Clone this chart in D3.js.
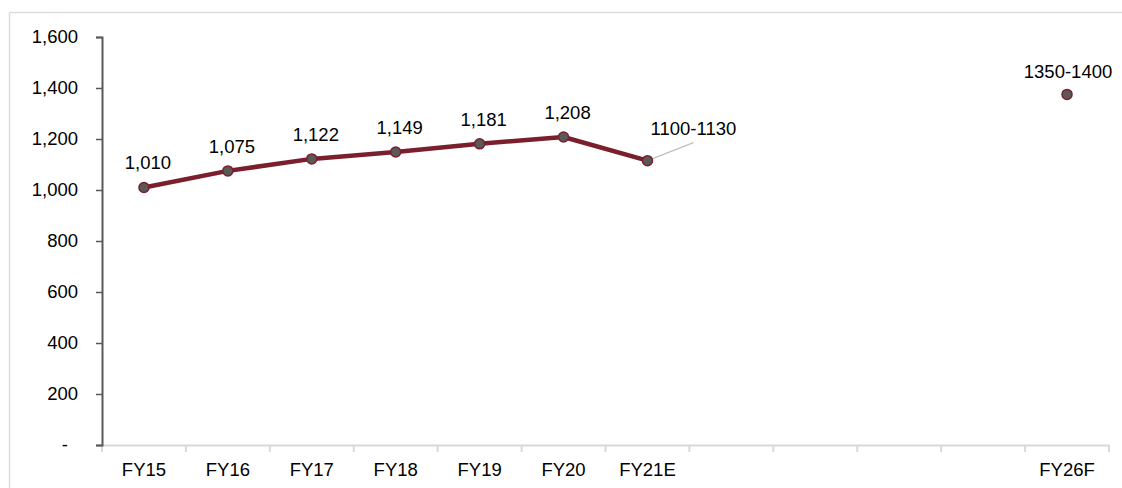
<!DOCTYPE html>
<html>
<head>
<meta charset="utf-8">
<script src="https://cdn.jsdelivr.net/npm/d3@7"></script>
<style>
  html, body { margin: 0; padding: 0; background: #fff; }
  svg { display: block; font-family: "Liberation Sans", Arial, sans-serif; }
</style>
</head>
<body>
<svg id="chart" width="1122" height="488"></svg>
<script>
// Fiscal-year axis: FY22–FY25 are empty slots kept for spacing
const categories = ["FY15", "FY16", "FY17", "FY18", "FY19", "FY20", "FY21E", "", "", "", "", "FY26F"];

// Actual series FY15–FY20 plus FY21 estimate (midpoint of its range)
const lineValues = [1010, 1075, 1122, 1149, 1181, 1208, 1115];
const lineLabels = ["1,010", "1,075", "1,122", "1,149", "1,181", "1,208", "1100-1130"];

// Long-range forecast point (midpoint of its range)
const forecastIndex = 11;
const forecastValue = 1375;
const forecastLabel = "1350-1400";

const yTicks = [0, 200, 400, 600, 800, 1000, 1200, 1400, 1600];

const fontSize = 18.5;
const svg = d3.select("#chart");
const plotLeft = 102, plotRight = 1109, plotTop = 37, plotBottom = 445;

// frame
svg.append("line").attr("x1", 9.5).attr("x2", 1122).attr("y1", 12.5).attr("y2", 12.5)
  .attr("stroke", "#dcdcdc").attr("stroke-width", 1.5);
svg.append("line").attr("x1", 9.5).attr("x2", 9.5).attr("y1", 12.5).attr("y2", 488)
  .attr("stroke", "#dcdcdc").attr("stroke-width", 1.5);

const x = d3.scaleBand().domain(d3.range(categories.length)).range([plotLeft, plotRight]).padding(0);
const y = d3.scaleLinear().domain([0, 1600]).range([plotBottom, plotTop]);
const cx = i => x(i) + x.bandwidth() / 2;

// x axis
const xAxis = svg.append("g").attr("transform", `translate(0,${plotBottom})`)
  .call(d3.axisBottom(x).tickSize(0).tickFormat(i => categories[i]));
xAxis.select(".domain").attr("stroke", "#d9d9d9").attr("stroke-width", 2);
xAxis.selectAll(".tick text").attr("font-size", fontSize).attr("fill", "#000").attr("dy", 0).attr("y", 30.5);
// category separators
svg.append("g").selectAll("line")
  .data(d3.range(categories.length + 1))
  .join("line")
  .attr("x1", i => plotLeft + i * x.bandwidth()).attr("x2", i => plotLeft + i * x.bandwidth())
  .attr("y1", plotBottom).attr("y2", plotBottom + 7)
  .attr("stroke", "#d9d9d9").attr("stroke-width", 2);

// y axis
const yAxis = svg.append("g").attr("transform", `translate(${plotLeft},0)`)
  .call(d3.axisLeft(y).tickValues(yTicks).tickSize(6).tickPadding(18)
    .tickFormat(d => d === 0 ? "-" : d3.format(",")(d)));
yAxis.select(".domain").attr("stroke", "#595959").attr("stroke-width", 2);
yAxis.selectAll(".tick line").attr("stroke", "#595959").attr("stroke-width", 1.5);
yAxis.selectAll(".tick text").attr("font-size", fontSize).attr("fill", "#000")
  .attr("dx", d => d === 0 ? -10 : 0);

// main line
const lineColor = "#7b1f2c";
svg.append("path")
  .datum(lineValues)
  .attr("fill", "none")
  .attr("stroke", lineColor)
  .attr("stroke-width", 4.5)
  .attr("stroke-linejoin", "round")
  .attr("d", d3.line().x((d, i) => cx(i)).y(d => y(d)));

// leader line for the FY21E range label
const estIdx = lineValues.length - 1;
svg.append("line")
  .attr("x1", cx(estIdx)).attr("y1", y(lineValues[estIdx]))
  .attr("x2", cx(estIdx) + 46).attr("y2", y(lineValues[estIdx]) - 18)
  .attr("stroke", "#bfbfbf").attr("stroke-width", 1.5);

// markers
const markers = lineValues.map((v, i) => ({ i, v })).concat([{ i: forecastIndex, v: forecastValue }]);
svg.append("g").selectAll("circle")
  .data(markers)
  .join("circle")
  .attr("cx", d => cx(d.i)).attr("cy", d => y(d.v)).attr("r", 5)
  .attr("fill", "#595959").attr("stroke", lineColor).attr("stroke-width", 1.5);

// value labels
const labels = svg.append("g").attr("font-size", fontSize).attr("fill", "#000").attr("text-anchor", "middle");
labels.selectAll("text.v")
  .data(lineValues.slice(0, estIdx))
  .join("text")
  .attr("x", (d, i) => cx(i) + 4)
  .attr("y", d => y(d) - 18)
  .text((d, i) => lineLabels[i]);
labels.append("text")
  .attr("x", cx(estIdx) + 46).attr("y", y(lineValues[estIdx]) - 25.5)
  .text(lineLabels[estIdx]);
labels.append("text")
  .attr("x", cx(forecastIndex) + 1).attr("y", y(forecastValue) - 16)
  .text(forecastLabel);
</script>
</body>
</html>
